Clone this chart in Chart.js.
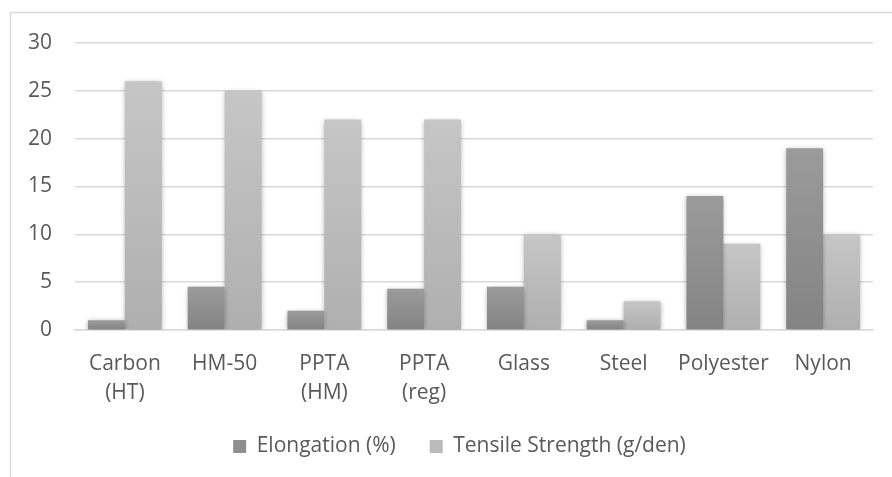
<!DOCTYPE html>
<html>
<head>
<meta charset="utf-8">
<script src="https://cdn.jsdelivr.net/npm/chart.js@4"></script>
<style>
  html, body { margin: 0; padding: 0; background: #fff; }
  #wrap { width: 892px; height: 477px; }
</style>
</head>
<body>
<div id="wrap"><canvas id="fibras"></canvas></div>
<script>
// categorias e valores
const categorias = [["Carbon", "(HT)"], "HM-50", ["PPTA", "(HM)"], ["PPTA", "(reg)"], "Glass", "Steel", "Polyester", "Nylon"];
const elongacao = [1, 4.5, 2, 4.3, 4.5, 1, 14, 19];
const tenacidade = [26, 25, 22, 22, 10, 3, 9, 10];
const ticksY = [0, 5, 10, 15, 20, 25, 30];

const corTexto = "#595959";
const corGrade = "#d9d9d9";
const fonte = { family: "'Open Sans', sans-serif", size: 21, lineHeight: 1.36 };

// gradiente vertical por barra (estilo Excel)
function gradienteBarra(corTopo, corBase) {
    return (c) => {
        const chart = c.chart;
        if (c.type !== "data" || !chart.chartArea || !chart.scales.y) return corTopo;
        const y = chart.scales.y;
        const yTopo = y.getPixelForValue(c.raw);
        const yBase = y.getPixelForValue(0);
        const g = chart.ctx.createLinearGradient(0, yTopo, 0, yBase);
        g.addColorStop(0, corTopo);
        g.addColorStop(1, corBase);
        return g;
    };
}

// moldura e fundo
const moldura = {
    id: "moldura",
    beforeDraw(chart) {
        const ctx = chart.ctx;
        ctx.save();
        ctx.fillStyle = "#fff";
        ctx.fillRect(0, 0, chart.width, chart.height);
        ctx.strokeStyle = corGrade;
        ctx.lineWidth = 1.5;
        ctx.strokeRect(10.5, 12.5, chart.width + 20, chart.height + 20);
        ctx.restore();
    }
};

// sombra suave das barras
const sombra = {
    id: "sombra",
    beforeDatasetsDraw(chart) {
        const ctx = chart.ctx;
        ctx.save();
        ctx.shadowColor = "rgba(0,0,0,0.35)";
        ctx.shadowBlur = 5;
        ctx.shadowOffsetX = 0;
        ctx.shadowOffsetY = 1;
    },
    afterDatasetsDraw(chart) {
        chart.ctx.restore();
    }
};

// legenda mais baixa: o espaçamento horizontal grande não deve comer a altura do gráfico
const ajusteLegenda = 17;
const legendaCompacta = {
    id: "legendaCompacta",
    afterInit(chart) {
        const leg = chart.legend;
        if (!leg) return;
        const fitOriginal = leg.fit.bind(leg);
        leg.fit = function () {
            fitOriginal();
            this.height -= ajusteLegenda;
        };
    },
    afterLayout(chart) {
        const leg = chart.legend;
        if (!leg) return;
        leg.top -= ajusteLegenda;
        leg.height += ajusteLegenda;
        leg.left += 13;
        leg.right += 13;
    }
};

new Chart(document.getElementById("fibras"), {
    type: "bar",
    data: {
        labels: categorias,
        datasets: [{
            label: "Elongation (%)",
            data: elongacao,
            backgroundColor: gradienteBarra("#9b9b9b", "#838383"),
            legendColor: "#8e8e8e"
        }, {
            label: "Tensile Strength (g/den)",
            data: tenacidade,
            backgroundColor: gradienteBarra("#c6c6c6", "#afafaf"),
            legendColor: "#bababa"
        }]
    },
    options: {
        responsive: true,
        maintainAspectRatio: false,
        animation: false,
        datasets: {
            bar: { categoryPercentage: 0.74, barPercentage: 1 }
        },
        layout: {
            padding: { left: 20, right: 19, top: 43, bottom: 10 }
        },
        scales: {
            x: {
                grid: { display: false },
                border: { display: true, color: corGrade, width: 1.5 },
                ticks: { color: corTexto, font: fonte, padding: 12, maxRotation: 0, autoSkip: false }
            },
            y: {
                min: 0,
                max: 30,
                afterBuildTicks: (s) => { s.ticks = ticksY.map(v => ({ value: v })); },
                afterFit: (s) => { s.width = 55; },
                grid: { color: corGrade, lineWidth: 1.5, drawTicks: false },
                border: { display: false },
                ticks: { color: corTexto, font: fonte, padding: 23 }
            }
        },
        plugins: {
            legend: {
                position: "bottom",
                labels: {
                    color: corTexto,
                    font: fonte,
                    boxWidth: 13,
                    boxHeight: 13,
                    padding: 34,
                    generateLabels: (chart) => chart.data.datasets.map((ds, i) => ({
                        text: ds.label,
                        fillStyle: ds.legendColor,
                        strokeStyle: ds.legendColor,
                        lineWidth: 0,
                        fontColor: corTexto,
                        hidden: false,
                        datasetIndex: i
                    }))
                }
            },
            tooltip: { enabled: false }
        }
    },
    plugins: [moldura, sombra, legendaCompacta]
});
</script>
</body>
</html>
